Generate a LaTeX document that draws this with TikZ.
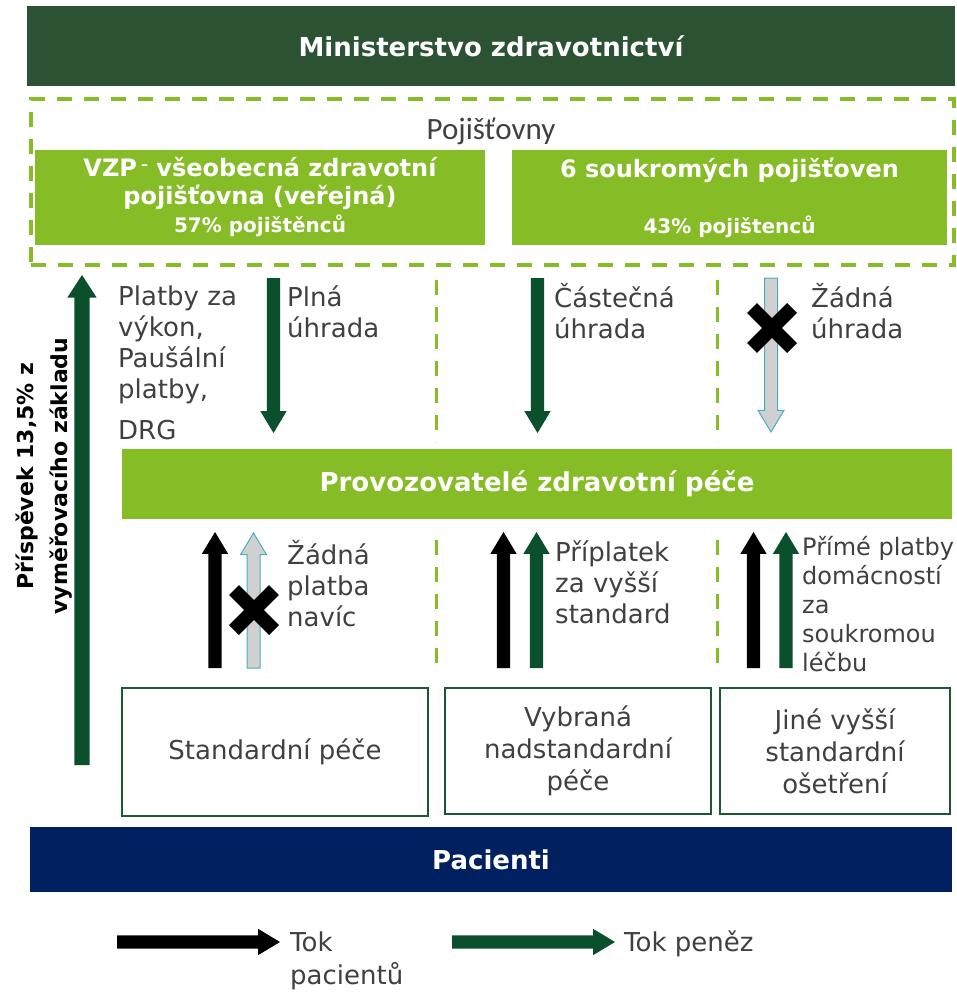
\documentclass[tikz,border=0pt]{standalone}
\usepackage{fontspec}
\setmainfont{DejaVu Sans}
\newfontfamily\calibfont{Carlito}
\usetikzlibrary{shapes.arrows}

\definecolor{ministry}{RGB}{44,82,52}
\definecolor{leaf}{RGB}{134,188,37}
\definecolor{money}{RGB}{10,80,45}
\definecolor{navy}{RGB}{0,32,96}
\definecolor{txt}{RGB}{64,64,64}
\definecolor{nofill}{RGB}{208,208,208}
\definecolor{noline}{RGB}{75,172,198}
\definecolor{boxline}{RGB}{30,86,49}

\tikzset{
  bar/.style={inner sep=0pt, text=white, align=center, font=\bfseries\fontsize{26}{31}\selectfont},
  care/.style={draw=boxline, line width=2pt, inner sep=0pt, align=center, text=txt, font=\fontsize{26}{32}\selectfont},
  label/.style={anchor=north west, inner sep=0pt, align=left, text=txt, font=\fontsize{26}{31}\selectfont},
  flow/.style={single arrow, anchor=tail, single arrow head extend=6.5pt, single arrow tip angle=62,
    minimum height=#1, inner xsep=0pt, inner ysep=6.5pt, outer sep=0pt},
  moneyflow/.style={flow=#1, fill=money},
  patientflow/.style={flow=#1, fill=black},
  noflow/.style={flow=#1, inner ysep=6pt, fill=nofill, draw=noline, line width=1pt},
  divider/.style={leaf, line width=3pt, dash pattern=on 15pt off 12pt},
  cross/.style={line width=14pt, line cap=butt}
}

\begin{document}
\begin{tikzpicture}[x=1pt, y=-1pt]
\useasboundingbox (0,0) rectangle (957,992);

%Ministerstvo
\node[bar, fill=ministry, minimum width=928pt, minimum height=80pt] (ministry) at (491,46) {Ministerstvo zdravotnictví};

%Pojišťovny
\node[draw=leaf, line width=4pt, dash pattern=on 15pt off 12pt, minimum width=923pt, minimum height=166pt] (insurers) at (492.5,182) {};
\node[text=txt, font=\calibfont\fontsize{31}{36}\selectfont] (insurerslabel) at (491,131) {Pojišťovny};
\node[bar, fill=leaf, minimum width=450pt, minimum height=95pt, font=\bfseries\fontsize{24}{28}\selectfont] (vzp) at (260,197.5)
  {VZP\,\raisebox{7pt}{\fontsize{14}{14}\selectfont –}\ všeobecná zdravotní\\pojišťovna (veřejná)\\{\fontsize{20}{27}\selectfont 57\% pojištěnců}};
\node[bar, fill=leaf, minimum width=435pt, minimum height=95pt, font=\bfseries\fontsize{24}{28}\selectfont] (private) at (729.5,197.5)
  {6 soukromých pojišťoven\\[28pt]{\fontsize{20}{27}\selectfont 43\% pojištenců}};

%Příspěvek
\node[moneyflow=490pt, inner ysep=7.5pt, single arrow head extend=7pt, single arrow tip angle=66, rotate=90] (levy) at (82,765) {};
\node[rotate=90, align=center, text=black, font=\bfseries\fontsize{22}{34}\selectfont] (levylabel) at (44,476) {Příspěvek 13,5\% z\\vyměřovacího základu};

%Úhrady
\node[label] (feelabel) at (118,284) {\strut Platby za\\výkon,\\Paušální\\platby,\\[10pt]DRG};
\node[moneyflow=155pt, rotate=-90] (fullpay) at (273.5,278) {};
\node[label] (fulllabel) at (287,285) {\strut Plná\\úhrada};
\node[moneyflow=155pt, rotate=-90] (partpay) at (537.5,278) {};
\node[label] (partlabel) at (554,283) {\strut Částečná\\úhrada};
\node[noflow=154pt, rotate=-90] (nopay) at (771,278) {};
\node[label] (nolabel) at (811,283) {\strut Žádná\\úhrada};
\draw[cross] (772,328) +(-20,-20) -- +(20,20) +(-20,20) -- +(20,-20);
\draw[divider] (436,280) -- (436,442);
\draw[divider] (717,280) -- (717,442);

%Provozovatelé
\node[bar, fill=leaf, minimum width=830pt, minimum height=70pt] (providers) at (537,484) {Provozovatelé zdravotní péče};

%Platby pacientů
\node[patientflow=136pt, rotate=90] (stdpatient) at (215,668) {};
\node[noflow=135pt, rotate=90] (stdpay) at (253.5,668) {};
\draw[cross] (254,610) +(-20,-20) -- +(20,20) +(-20,20) -- +(20,-20);
\node[label] (stdlabel) at (287,540) {\strut Žádná\\platba\\navíc};
\node[patientflow=136pt, rotate=90] (selpatient) at (503.5,668) {};
\node[moneyflow=136pt, rotate=90] (selpay) at (536.5,668) {};
\node[label] (sellabel) at (555,540) {\strut Příplatek\\za vyšší\\standard};
\node[patientflow=136pt, rotate=90] (othpatient) at (753.5,668) {};
\node[moneyflow=136pt, rotate=90] (othpay) at (786,668) {};
\node[label, font=\fontsize{24}{29}\selectfont] (othlabel) at (802,535) {\strut Přímé platby\\domácností\\za\\soukromou\\léčbu};
\draw[divider] (436,540) -- (436,665);
\draw[divider] (717,540) -- (717,665);

%Péče
\node[care, minimum width=306pt, minimum height=128pt] (stdcare) at (275,752) {Standardní péče};
\node[care, minimum width=266pt, minimum height=126pt] (selcare) at (578,751) {Vybraná\\nadstandardní\\péče};
\node[care, minimum width=230pt, minimum height=126pt] (othcare) at (835,751) {Jiné vyšší\\standardní\\ošetření};

%Pacienti
\node[bar, fill=navy, minimum width=922pt, minimum height=65pt] (patients) at (491,859.5) {Pacienti};

%Legenda
\node[patientflow=163pt] (keypatient) at (117,942) {};
\node[label] (keypatientlabel) at (290,930) {\strut Tok\\pacientů};
\node[moneyflow=163pt] (keymoney) at (452,942) {};
\node[label] (keymoneylabel) at (624,930) {\strut Tok peněz};

\end{tikzpicture}
\end{document}
